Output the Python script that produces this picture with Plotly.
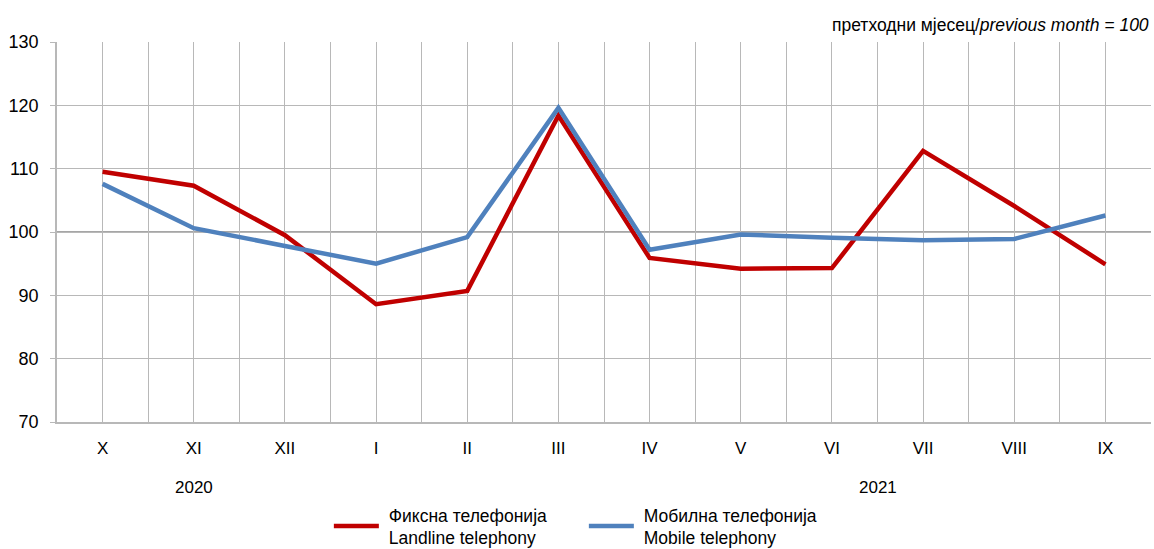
import plotly.graph_objects as go

months = ["X", "XI", "XII", "I", "II", "III", "IV", "V", "VI", "VII", "VIII", "IX"]
landline = [109.5, 107.3, 99.5, 88.6, 90.7, 118.4, 95.9, 94.2, 94.3, 112.8, 104.1, 94.9]
mobile = [107.6, 100.6, 97.8, 95.0, 99.2, 119.6, 97.2, 99.6, 99.1, 98.7, 98.9, 102.6]
years = ["2020", "2021"]
year_pos = [1, 8.5]
y_ticks = [70, 80, 90, 100, 110, 120, 130]

x_idx = list(range(len(months)))
tickvals, ticktext = [], []
for i, m in enumerate(months):
    tickvals += [i - 0.5, i]
    ticktext += ["", m]
tickvals.append(len(months) - 0.5)
ticktext.append("")

FONT = "Liberation Sans Narrow, Arial Narrow, Liberation Sans, Arial"
GRID = "#b8b8b8"
NB = "\u00a0"

fig = go.Figure()
fig.add_trace(go.Scatter(x=x_idx, y=landline, mode="lines",
                         name=NB + "Фиксна телефонија<br>" + NB + "Landline telephony",
                         line=dict(color="#C00000", width=4.5)))
fig.add_trace(go.Scatter(x=x_idx, y=mobile, mode="lines",
                         name=NB + "Мобилна телефонија<br>" + NB + "Mobile telephony",
                         line=dict(color="#4F81BD", width=4.5)))

fig.add_hline(y=100, line=dict(color="#a6a6a6", width=2), layer="below")

for yr, p in zip(years, year_pos):
    fig.add_annotation(x=p, y=-0.172, xref="x", yref="paper", text=yr,
                       showarrow=False, font=dict(size=17, color="#000", family=FONT),
                       xanchor="center", yanchor="middle")

fig.add_annotation(x=1, y=1.045, xref="paper", yref="paper",
                   text="претходни мјесец/<i>previous month = 100</i>",
                   showarrow=False, xanchor="right", yanchor="middle",
                   font=dict(size=17.5, color="#000", family=FONT))

fig.update_layout(
    width=1154, height=549, autosize=False,
    margin=dict(l=57, r=3, t=42, b=127),
    plot_bgcolor="white", paper_bgcolor="white",
    font=dict(family=FONT, color="#000"),
    showlegend=True,
    legend=dict(orientation="h", x=0.2485, y=0.095, xref="paper", yref="container",
                xanchor="left", yanchor="top",
                font=dict(size=17.5, family=FONT, color="#000"),
                itemwidth=45, tracegroupgap=0, entrywidth=195),
    xaxis=dict(range=[-0.5, len(months) - 0.5], tickmode="array",
               tickvals=tickvals, ticktext=ticktext, showgrid=True,
               gridcolor=GRID, gridwidth=1, showline=True, linecolor=GRID,
               linewidth=1.5, ticks="", zeroline=False, automargin=False,
               tickfont=dict(size=17, family=FONT), ticklabelstandoff=10),
    yaxis=dict(range=[70, 130], tickvals=y_ticks, showgrid=True,
               gridcolor=GRID, gridwidth=1, showline=True, linecolor=GRID,
               linewidth=1.5, ticks="outside", ticklen=5, tickcolor=GRID,
               zeroline=False, automargin=False, tickfont=dict(size=18, family=FONT),
               ticklabelstandoff=8),
)

fig.write_html(
    "out.html",
    config={"responsive": False, "displayModeBar": False},
    default_width="1154px",
    default_height="549px",
    post_script="document.body.style.margin='0';document.body.style.overflow='hidden';",
)
